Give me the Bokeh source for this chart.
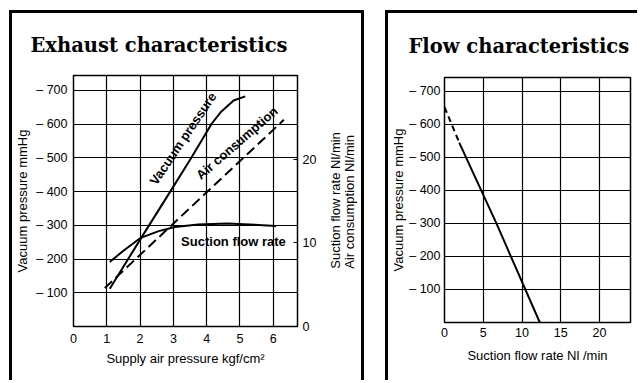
import math
from bokeh.plotting import figure
from bokeh.models import Range1d, LinearAxis, FixedTicker, Label, Spacer
from bokeh.layouts import row, column
from bokeh.embed import file_html
from bokeh.resources import INLINE

# ---------------- Exhaust characteristics ----------------
vac_supply = [1.09, 2.03, 2.92, 3.54, 4.15, 4.42, 4.81, 5.16]
vac_pressure = [-112, -262, -402, -500, -601, -635, -670, -682]

suction_supply = [1.09, 1.48, 2.02, 2.56, 3.05, 3.74, 4.62, 5.30, 6.09]
suction_flow = [7.7, 9.0, 10.6, 11.4, 11.9, 12.2, 12.3, 12.2, 12.0]

air_supply = [0.94, 6.32]
air_consumption = [4.6, 24.7]

supply_ticks = [0, 1, 2, 3, 4, 5, 6]
flow_axis_ticks = [0, 10, 20]
vacuum_ticks = [-100, -200, -300, -400, -500, -600, -700]
vacuum_tick_labels = ["– 100", "– 200", "– 300", "– 400", "– 500", "– 600", "– 700"]

# ---------------- Flow characteristics ----------------
flow_dashed_rate = [0.0, 1.9]
flow_dashed_vac = [-652, -545]
flow_solid_rate = [1.9, 6.7, 12.3]
flow_solid_vac = [-545, -300, 0]
flow_ticks = [0, 5, 10, 15, 20]

SANS = "Liberation Sans"
SERIF = "DejaVu Serif"


def base_figure(width, height, xr, yr, left, right, top, bottom, title, title_offset,
                title_standoff, borders):
    p = figure(width=width, height=height, x_range=xr, y_range=yr,
               output_backend="svg", toolbar_location=None,
               min_border_left=left, min_border_right=right,
               min_border_top=top, min_border_bottom=bottom)
    p.background_fill_color = "white"
    p.border_fill_color = "white"
    p.outline_line_color = "black"
    p.outline_line_width = 1.5
    for g in (p.xgrid[0], p.ygrid[0]):
        g.grid_line_color = "black"
        g.grid_line_width = 1.2
        g.grid_line_alpha = 1.0
    for ax in (p.xaxis[0], p.yaxis[0]):
        ax.major_tick_line_color = None
        ax.minor_tick_line_color = None
        ax.major_tick_out = 0
        ax.major_tick_in = 0
        ax.axis_line_color = None
        ax.major_label_text_font = SANS
        ax.major_label_text_font_size = "12.5px"
        ax.major_label_text_color = "black"
        ax.axis_label_text_font = SANS
        ax.axis_label_text_font_size = "13px"
        ax.axis_label_text_font_style = "normal"
        ax.axis_label_text_color = "black"
    p.title.text = title
    p.title.text_font = SERIF
    p.title.text_font_style = "bold"
    p.title.text_font_size = "19.5px"
    p.title.text_color = "black"
    p.title.align = "left"
    p.title.offset = title_offset
    p.title.standoff = title_standoff
    st = {}
    for side in borders:
        st["border-" + side] = "3px solid black"
    p.styles = st
    return p


def vertical_up(ax):
    try:
        ax.axis_label_orientation = math.pi / 2
    except Exception:
        pass
    try:
        ax.axis_label_align = "start"
    except Exception:
        pass


# ---------- left panel ----------
p1 = base_figure(355, 370, Range1d(0, 6.73), Range1d(0, -744), 61, 65, 60, 57,
                 "Exhaust characteristics", -43, 37, ["left", "top", "right"])
p1.xgrid.ticker = FixedTicker(ticks=supply_ticks[1:])
p1.ygrid.ticker = FixedTicker(ticks=vacuum_ticks)
p1.xaxis.ticker = FixedTicker(ticks=supply_ticks)
p1.xaxis.axis_label = "Supply air pressure kgf/cm²"
p1.xaxis.major_label_standoff = 7
p1.xaxis.axis_label_standoff = 5
p1.yaxis.ticker = FixedTicker(ticks=vacuum_ticks)
p1.yaxis.major_label_overrides = dict(zip(vacuum_ticks, vacuum_tick_labels))
p1.yaxis.axis_label = "Vacuum pressure mmHg"
p1.yaxis.major_label_standoff = 6
p1.yaxis.axis_label_standoff = 3

PAD = "\u00a0" * 16
p1.extra_y_ranges = {"flow": Range1d(0, 30)}
label_props = dict(axis_label_text_font=SANS, axis_label_text_font_size="13px",
                   axis_label_text_font_style="normal", axis_label_text_color="black",
                   axis_label_text_line_height=1.0)
rax = LinearAxis(y_range_name="flow", ticker=FixedTicker(ticks=flow_axis_ticks),
                 major_tick_in=4, major_tick_out=0, major_tick_line_color="black",
                 minor_tick_line_color=None, minor_tick_in=0, minor_tick_out=0,
                 axis_line_color=None,
                 major_label_text_font=SANS, major_label_text_font_size="12.5px",
                 major_label_text_color="black", major_label_standoff=5,
                 axis_label=PAD + "Suction flow rate Nl/min", axis_label_standoff=16,
                 **label_props)
vertical_up(rax)
p1.add_layout(rax, "right")
rax2 = LinearAxis(y_range_name="flow", ticker=FixedTicker(ticks=[]),
                  major_tick_in=0, major_tick_out=0, major_tick_line_color=None,
                  minor_tick_line_color=None, minor_tick_in=0, minor_tick_out=0,
                  axis_line_color=None, major_label_standoff=0,
                  axis_label=PAD + "Air consumption Nl/min", axis_label_standoff=-4,
                  **label_props)
vertical_up(rax2)
p1.add_layout(rax2, "right")

p1.line(vac_supply, vac_pressure, line_color="black", line_width=2)
p1.line(suction_supply, suction_flow, y_range_name="flow", line_color="black", line_width=2)
p1.line(air_supply, air_consumption, y_range_name="flow", line_color="black",
        line_width=2, line_dash="10 5")

curve_font = dict(text_font=SANS, text_font_style="bold", text_font_size="13px",
                  text_color="black")
p1.add_layout(Label(x=3.29, y=-557, text="Vacuum pressure", angle=56, angle_units="deg",
                    text_align="center", text_baseline="middle", **curve_font))
p1.add_layout(Label(x=4.91, y=-544, text="Air consumption", angle=41, angle_units="deg",
                    text_align="center", text_baseline="middle", **curve_font))
p1.add_layout(Label(x=6.38, y=-253, text="Suction flow rate",
                    text_align="right", text_baseline="middle", **curve_font))

# ---------- right panel ----------
p2 = base_figure(252, 370, Range1d(0, 24), Range1d(0, -742), 55, 10, 62, 61,
                 "Flow characteristics", -36, 39, ["left", "top"])
p2.xgrid.ticker = FixedTicker(ticks=flow_ticks[1:])
p2.ygrid.ticker = FixedTicker(ticks=vacuum_ticks)
p2.xaxis.ticker = FixedTicker(ticks=flow_ticks)
p2.xaxis.axis_label = "Suction flow rate Nl /min"
p2.xaxis.major_label_standoff = 5
p2.xaxis.axis_label_standoff = 8
p2.yaxis.ticker = FixedTicker(ticks=vacuum_ticks)
p2.yaxis.major_label_overrides = dict(zip(vacuum_ticks, vacuum_tick_labels))
p2.yaxis.axis_label = "Vacuum pressure mmHg"
p2.yaxis.major_label_standoff = 4
p2.yaxis.axis_label_standoff = 0

p2.line(flow_dashed_rate, flow_dashed_vac, line_color="black", line_width=2, line_dash="6 4")
p2.line(flow_solid_rate, flow_solid_vac, line_color="black", line_width=2)

layout = row(Spacer(width=9, height=383),
             column(Spacer(width=361, height=10), p1),
             Spacer(width=15, height=383),
             column(Spacer(width=255, height=10), p2))
open("out.html", "w").write(file_html(layout, INLINE))
